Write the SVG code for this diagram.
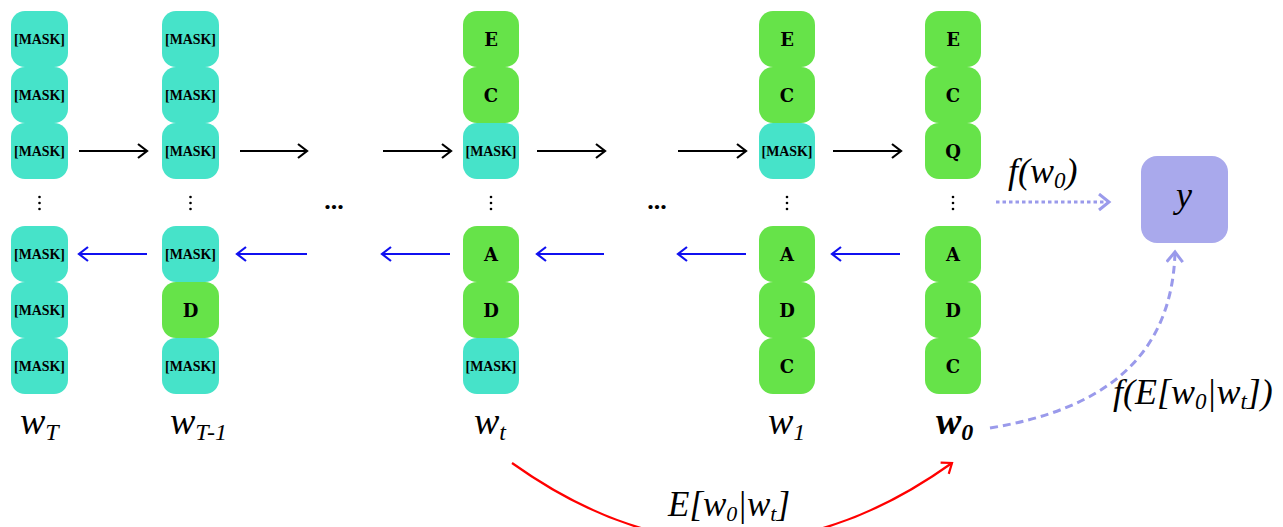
<svg xmlns="http://www.w3.org/2000/svg" width="1283" height="527" viewBox="0 0 1283 527">
  <style>
    .mask { fill: #46E3C9; }
    .tok { fill: #66E349; }
    .mt { font-family: "Liberation Serif", serif; font-weight: bold; font-size: 15px; fill: #000; text-anchor: middle; }
    .lt { font-family: "DejaVu Serif", serif; font-weight: bold; font-size: 18px; fill: #000; text-anchor: middle; }
    .math { font-family: "Liberation Serif", serif; font-style: italic; fill: #000; }
    .fwd { stroke: #000; stroke-width: 2.2; fill: none; }
    .bwd { stroke: #1010F0; stroke-width: 2.2; fill: none; }
    .pur { stroke: #9A9AEB; stroke-width: 3; fill: none; }
  </style>
  <defs>
    <marker id="hk" markerUnits="userSpaceOnUse" markerWidth="14" markerHeight="18" refX="11" refY="8" orient="auto">
      <path d="M2,1 L11,8 L2,15" stroke="#000" stroke-width="2.2" fill="none"/>
    </marker>
    <marker id="hb" markerUnits="userSpaceOnUse" markerWidth="14" markerHeight="18" refX="11" refY="8" orient="auto">
      <path d="M2,1 L11,8 L2,15" stroke="#1010F0" stroke-width="2.2" fill="none"/>
    </marker>
    <marker id="hr" markerUnits="userSpaceOnUse" markerWidth="14" markerHeight="18" refX="11" refY="8" orient="auto">
      <path d="M2,1 L11,8 L2,15" stroke="#F00" stroke-width="2.2" fill="none"/>
    </marker>
    <marker id="hp" markerUnits="userSpaceOnUse" markerWidth="16" markerHeight="20" refX="12" refY="9" orient="auto">
      <path d="M2,1 L12,9 L2,17" stroke="#9A9AEB" stroke-width="3" fill="none"/>
    </marker>
    <g id="vdots">
      <circle cx="0" cy="-6" r="1.3" fill="#000"/>
      <circle cx="0" cy="0" r="1.3" fill="#000"/>
      <circle cx="0" cy="6" r="1.3" fill="#000"/>
    </g>
  </defs>

  <!-- column w_T -->
  <g id="col-wT">
    <rect class="mask" x="11" y="11" width="57" height="56" rx="14"/><text class="mt" x="39.5" y="44" textLength="51" lengthAdjust="spacingAndGlyphs">[MASK]</text>
    <rect class="mask" x="11" y="67" width="57" height="56" rx="14"/><text class="mt" x="39.5" y="100" textLength="51" lengthAdjust="spacingAndGlyphs">[MASK]</text>
    <rect class="mask" x="11" y="123" width="57" height="56" rx="14"/><text class="mt" x="39.5" y="156" textLength="51" lengthAdjust="spacingAndGlyphs">[MASK]</text>
    <use href="#vdots" x="39.5" y="203"/>
    <rect class="mask" x="11" y="226" width="57" height="56" rx="14"/><text class="mt" x="39.5" y="259" textLength="51" lengthAdjust="spacingAndGlyphs">[MASK]</text>
    <rect class="mask" x="11" y="282" width="57" height="56" rx="14"/><text class="mt" x="39.5" y="315" textLength="51" lengthAdjust="spacingAndGlyphs">[MASK]</text>
    <rect class="mask" x="11" y="338" width="57" height="56" rx="14"/><text class="mt" x="39.5" y="371" textLength="51" lengthAdjust="spacingAndGlyphs">[MASK]</text>
    <text class="math" x="20" y="434" font-size="38">w<tspan font-size="24" dy="6">T</tspan></text>
  </g>

  <!-- column w_{T-1} -->
  <g id="col-wT1">
    <rect class="mask" x="162" y="11" width="57" height="56" rx="14"/><text class="mt" x="190.5" y="44" textLength="51" lengthAdjust="spacingAndGlyphs">[MASK]</text>
    <rect class="mask" x="162" y="67" width="57" height="56" rx="14"/><text class="mt" x="190.5" y="100" textLength="51" lengthAdjust="spacingAndGlyphs">[MASK]</text>
    <rect class="mask" x="162" y="123" width="57" height="56" rx="14"/><text class="mt" x="190.5" y="156" textLength="51" lengthAdjust="spacingAndGlyphs">[MASK]</text>
    <use href="#vdots" x="190.5" y="203"/>
    <rect class="mask" x="162" y="226" width="57" height="56" rx="14"/><text class="mt" x="190.5" y="259" textLength="51" lengthAdjust="spacingAndGlyphs">[MASK]</text>
    <rect class="tok" x="162" y="282" width="57" height="56" rx="14"/><text class="lt" x="190.5" y="317">D</text>
    <rect class="mask" x="162" y="338" width="57" height="56" rx="14"/><text class="mt" x="190.5" y="371" textLength="51" lengthAdjust="spacingAndGlyphs">[MASK]</text>
    <text class="math" x="170" y="434" font-size="38">w<tspan font-size="24" dy="6">T-1</tspan></text>
  </g>

  <!-- column w_t -->
  <g id="col-wt">
    <rect class="tok" x="463" y="11" width="56" height="56" rx="14"/><text class="lt" x="491" y="46">E</text>
    <rect class="tok" x="463" y="67" width="56" height="56" rx="14"/><text class="lt" x="491" y="102">C</text>
    <rect class="mask" x="463" y="123" width="56" height="56" rx="14"/><text class="mt" x="491" y="156" textLength="51" lengthAdjust="spacingAndGlyphs">[MASK]</text>
    <use href="#vdots" x="491" y="203"/>
    <rect class="tok" x="463" y="226" width="56" height="56" rx="14"/><text class="lt" x="491" y="261">A</text>
    <rect class="tok" x="463" y="282" width="56" height="56" rx="14"/><text class="lt" x="491" y="317">D</text>
    <rect class="mask" x="463" y="338" width="56" height="56" rx="14"/><text class="mt" x="491" y="371" textLength="51" lengthAdjust="spacingAndGlyphs">[MASK]</text>
    <text class="math" x="474" y="434" font-size="38">w<tspan font-size="24" dy="6">t</tspan></text>
  </g>

  <!-- column w_1 -->
  <g id="col-w1">
    <rect class="tok" x="759" y="11" width="56" height="56" rx="14"/><text class="lt" x="787" y="46">E</text>
    <rect class="tok" x="759" y="67" width="56" height="56" rx="14"/><text class="lt" x="787" y="102">C</text>
    <rect class="mask" x="759" y="123" width="56" height="56" rx="14"/><text class="mt" x="787" y="156" textLength="51" lengthAdjust="spacingAndGlyphs">[MASK]</text>
    <use href="#vdots" x="787" y="203"/>
    <rect class="tok" x="759" y="226" width="56" height="56" rx="14"/><text class="lt" x="787" y="261">A</text>
    <rect class="tok" x="759" y="282" width="56" height="56" rx="14"/><text class="lt" x="787" y="317">D</text>
    <rect class="tok" x="759" y="338" width="56" height="56" rx="14"/><text class="lt" x="787" y="373">C</text>
    <text class="math" x="768" y="434" font-size="38">w<tspan font-size="24" dy="6">1</tspan></text>
  </g>

  <!-- column w_0 -->
  <g id="col-w0">
    <rect class="tok" x="925" y="11" width="56" height="56" rx="14"/><text class="lt" x="953" y="46">E</text>
    <rect class="tok" x="925" y="67" width="56" height="56" rx="14"/><text class="lt" x="953" y="102">C</text>
    <rect class="tok" x="925" y="123" width="56" height="56" rx="14"/><text class="lt" x="953" y="158">Q</text>
    <use href="#vdots" x="953" y="203"/>
    <rect class="tok" x="925" y="226" width="56" height="56" rx="14"/><text class="lt" x="953" y="261">A</text>
    <rect class="tok" x="925" y="282" width="56" height="56" rx="14"/><text class="lt" x="953" y="317">D</text>
    <rect class="tok" x="925" y="338" width="56" height="56" rx="14"/><text class="lt" x="953" y="373">C</text>
    <text class="math" x="936" y="434" font-size="38" font-weight="bold">w<tspan font-size="24" dy="6">0</tspan></text>
  </g>

  <!-- target node -->
  <g id="node-y">
    <rect x="1141" y="156" width="87" height="87" rx="16" fill="#A9A9EC"/>
    <text class="math" x="1184" y="207" font-size="36" text-anchor="middle">y</text>
  </g>

  <!-- ellipses between steps -->
  <g id="ellipses">
    <text x="334" y="209" font-family="Liberation Serif, serif" font-weight="bold" font-size="26" text-anchor="middle">...</text>
    <text x="657" y="209" font-family="Liberation Serif, serif" font-weight="bold" font-size="26" text-anchor="middle">...</text>
  </g>

  <g id="connectors">
    <!-- forward (masking) steps -->
    <line class="fwd" x1="79" y1="151" x2="147" y2="151" marker-end="url(#hk)"/>
    <line class="fwd" x1="240" y1="151" x2="307" y2="151" marker-end="url(#hk)"/>
    <line class="fwd" x1="383" y1="151" x2="451" y2="151" marker-end="url(#hk)"/>
    <line class="fwd" x1="537" y1="151" x2="605" y2="151" marker-end="url(#hk)"/>
    <line class="fwd" x1="678" y1="151" x2="746" y2="151" marker-end="url(#hk)"/>
    <line class="fwd" x1="833" y1="151" x2="901" y2="151" marker-end="url(#hk)"/>
    <!-- reverse (unmasking) steps -->
    <line class="bwd" x1="147" y1="254" x2="79" y2="254" marker-end="url(#hb)"/>
    <line class="bwd" x1="307" y1="254" x2="237" y2="254" marker-end="url(#hb)"/>
    <line class="bwd" x1="450" y1="254" x2="382" y2="254" marker-end="url(#hb)"/>
    <line class="bwd" x1="604" y1="254" x2="537" y2="254" marker-end="url(#hb)"/>
    <line class="bwd" x1="746" y1="254" x2="678" y2="254" marker-end="url(#hb)"/>
    <line class="bwd" x1="900" y1="254" x2="832" y2="254" marker-end="url(#hb)"/>
    <!-- f(w_0) -->
    <line class="pur" x1="996" y1="202" x2="1109" y2="202" stroke-dasharray="3.5 3" marker-end="url(#hp)"/>
    <!-- f(E[w_0|w_t]) -->
    <path class="pur" d="M990,428 C1100,410 1172,360 1175,252" stroke-dasharray="8 5" marker-end="url(#hp)"/>
    <!-- E[w_0|w_t] -->
    <path d="M512,463 Q732,620 952,463" stroke="#F00" stroke-width="2.2" fill="none" marker-end="url(#hr)"/>
  </g>

  <!-- edge labels -->
  <g id="labels">
    <text class="math" x="1008" y="183" font-size="36">f(w<tspan font-size="23" dy="5">0</tspan><tspan dy="-5">)</tspan></text>
    <text class="math" x="1113" y="404" font-size="36">f(E[w<tspan font-size="23" dy="5">0</tspan><tspan dy="-5">|w</tspan><tspan font-size="23" dy="5">t</tspan><tspan dy="-5">])</tspan></text>
    <rect x="660" y="486" width="145" height="41" fill="#fff"/>
    <text class="math" x="668" y="516" font-size="35">E[w<tspan font-size="22" dy="5">0</tspan><tspan dy="-5">|w</tspan><tspan font-size="22" dy="5">t</tspan><tspan dy="-5">]</tspan></text>
  </g>
</svg>
